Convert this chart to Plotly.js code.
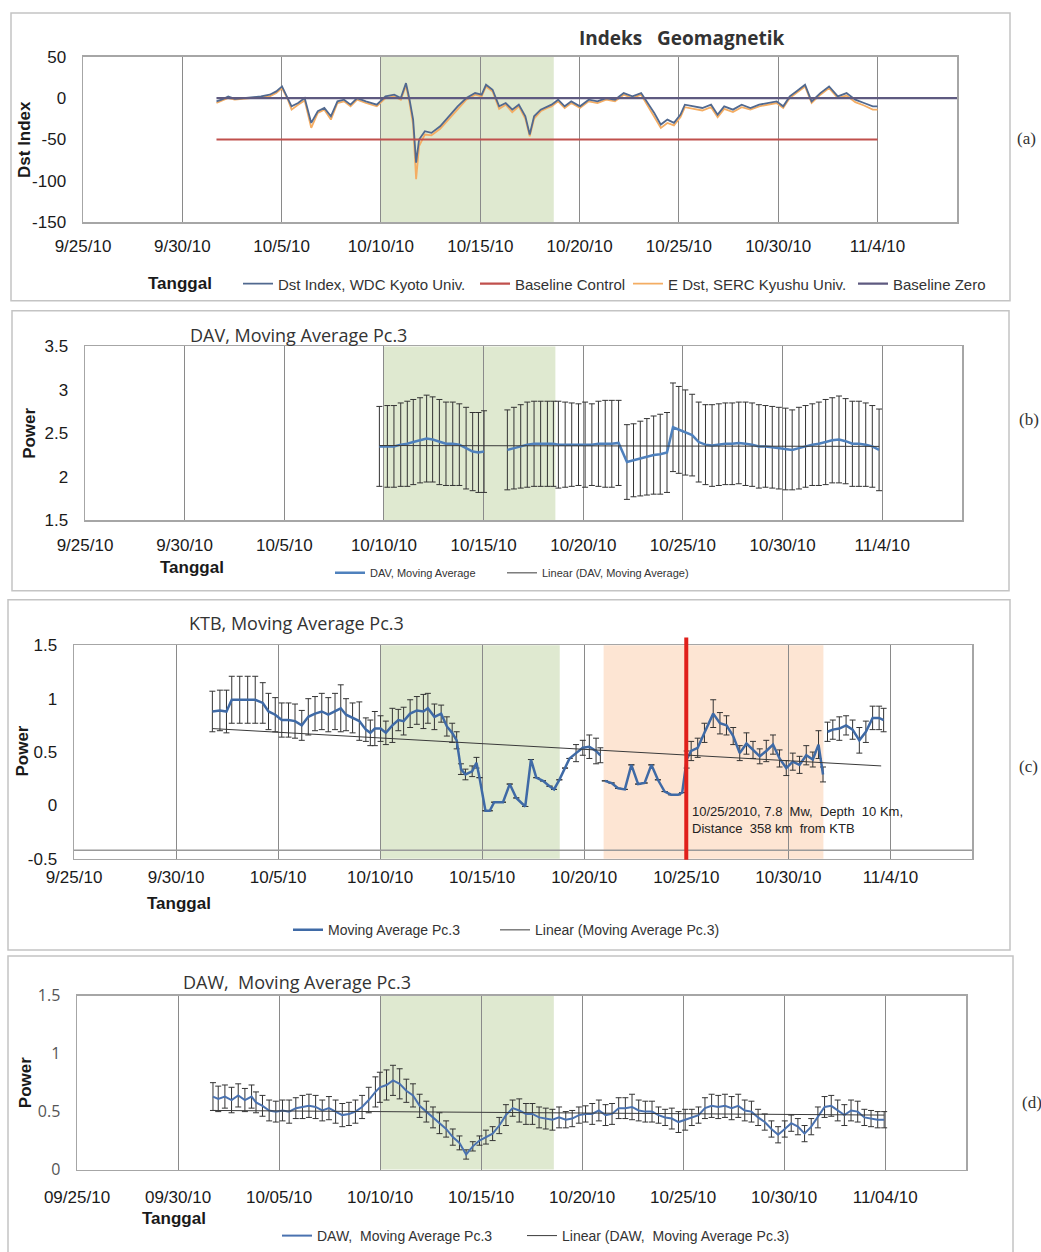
<!DOCTYPE html>
<html><head><meta charset="utf-8">
<script src="https://cdn.plot.ly/plotly-3.0.1.min.js"></script>
<style>html,body{margin:0;padding:0;background:#fff;} #chart{width:1041px;height:1252px;}</style>
</head><body><div id="chart"></div>
<script>
// ---------- DATA (day offsets = days since 2010-09-25 00:00) ----------
const xTickFormatA = '%-m/%-d/%y';
const xTickFormatD = '%m/%d/%y';

// (a) Geomagnetic index
const dstDay = [6.72,6.98,7.31,7.64,8.08,8.52,8.96,9.40,9.73,10.02,
 10.28,10.50,10.83,11.16,11.49,11.82,12.15,12.48,12.81,13.14,
 13.47,13.80,14.24,14.79,15.23,15.67,16.00,16.26,16.44,16.62,
 16.77,16.92,17.21,17.54,17.98,18.42,18.86,19.30,19.74,20.07,
 20.29,20.62,20.95,21.28,21.61,21.94,22.27,22.49,22.71,23.04,
 23.37,23.59,23.92,24.25,24.58,25.02,25.46,25.90,26.34,26.78,
 27.22,27.66,28.10,28.43,28.76,29.09,29.42,29.75,30.08,30.30,
 30.74,31.18,31.62,31.95,32.28,32.72,33.16,33.60,34.04,34.48,
 34.92,35.25,35.58,35.91,36.35,36.68,37.12,37.56,38.00,38.44,
 38.88,39.32,39.76,40.00];
const dstIndex = [-4,-2,2,-1,0,1,2,4,8,14,
 2,-10,-6,0,-30,-16,-12,-22,-4,-2,
 -8,0,-4,-8,2,4,0,18,-2,-26,
 -78,-50,-40,-42,-34,-22,-10,0,6,4,
 16,10,-10,-6,-14,-8,-22,-44,-22,-14,
 -10,-8,-2,-10,-4,-10,-2,-4,0,-2,
 6,2,6,-6,-18,-32,-26,-30,-20,-8,
 -10,-12,-8,-20,-10,-14,-8,-12,-8,-6,
 -4,-10,2,8,16,-4,6,14,2,6,
 -2,-6,-10,-10];
const eDst = [-6,-3,0,-2,-1,0,1,2,6,12,
 0,-14,-8,-3,-36,-18,-14,-26,-6,-4,
 -10,-2,-6,-10,0,2,-2,15,-6,-32,
 -98,-58,-44,-45,-37,-25,-13,-2,4,2,
 14,8,-13,-8,-17,-10,-25,-46,-25,-16,
 -12,-10,-4,-12,-6,-12,-4,-6,-2,-4,
 4,0,4,-9,-22,-36,-30,-33,-23,-11,
 -13,-15,-11,-23,-13,-17,-11,-14,-10,-8,
 -6,-12,0,6,14,-6,4,12,0,3,
 -5,-9,-14,-14];
const baselineControlDay = [6.72, 40.0];
const baselineControl = [-50, -50];
const baselineZeroDay = [6.72, 44.0];
const baselineZero = [0, 0];
const dstTickVals = [-150,-100,-50,0,50];
const dstTickText = ['-150','-100','-50','0','50'];

// (b) DAV
const davDay = [14.77,15.17,15.50,15.84,16.17,16.47,16.81,17.14,17.44,17.78,18.11,18.45,18.78,19.12,19.45,19.74,20.02,
 20.60,
 21.19,21.52,21.86,22.19,22.53,22.86,23.20,23.50,
 23.75,24.09,24.42,24.76,25.09,25.43,25.76,26.10,26.43,26.77,
 27.19,27.52,27.86,28.19,28.53,28.86,29.20,
 29.50,29.79,30.12,30.46,30.79,31.13,31.46,31.80,32.13,32.47,
 32.80,33.14,33.47,33.81,34.14,34.48,34.81,35.15,35.48,35.82,
 36.15,36.49,36.82,37.16,37.49,37.83,38.16,38.50,38.83,39.17,
 39.50,39.84];
const davMA = [2.35,2.35,2.35,2.37,2.38,2.40,2.42,2.44,2.43,2.40,2.38,2.38,2.37,2.33,2.29,2.28,2.29,
 null,
 2.31,2.33,2.35,2.37,2.38,2.38,2.38,2.38,
 2.37,2.37,2.37,2.37,2.37,2.37,2.38,2.38,2.38,2.39,
 2.17,2.19,2.21,2.23,2.25,2.26,2.28,
 2.57,2.54,2.51,2.48,2.40,2.37,2.36,2.37,2.38,2.38,
 2.39,2.38,2.37,2.35,2.35,2.34,2.33,2.32,2.31,2.33,
 2.35,2.37,2.38,2.40,2.42,2.43,2.41,2.38,2.38,2.37,
 2.35,2.31];
const davErr = [0.46,0.47,0.47,0.48,0.49,0.49,0.49,0.50,0.49,0.49,0.48,0.48,0.47,0.47,0.45,0.46,0.47,
 null,
 0.46,0.47,0.48,0.49,0.49,0.49,0.49,0.49,
 0.50,0.49,0.48,0.47,0.49,0.47,0.49,0.50,0.50,0.49,
 0.43,0.42,0.43,0.44,0.45,0.46,0.46,
 0.51,0.50,0.49,0.47,0.46,0.46,0.47,0.47,0.47,0.47,
 0.47,0.48,0.48,0.48,0.47,0.47,0.47,0.47,0.46,0.47,
 0.47,0.47,0.48,0.49,0.49,0.50,0.49,0.49,0.49,0.48,
 0.47,0.47];
const davTrendDay = [14.77, 39.84];
const davTrend = [2.36, 2.35];

// (c) KTB
const ktbDay = [6.78,7.15,7.47,7.73,8.12,8.51,8.88,9.25,9.53,9.86,
 10.18,10.51,10.83,11.16,11.48,11.81,12.14,12.46,12.79,13.07,
 13.33,13.65,13.98,14.30,14.52,14.74,15.02,15.28,15.60,15.89,
 16.15,16.47,16.80,17.12,17.34,17.66,17.99,18.27,18.53,18.75,
 18.96,19.18,19.51,19.72,19.87,20.16,20.37,20.59,21.02,21.35,
 21.67,22.11,22.39,22.65,22.98,23.30,23.52,23.78,24.06,24.28,
 24.60,24.93,25.25,25.58,25.79,
 25.90,
 26.01,26.34,26.66,26.99,27.31,27.64,27.96,28.29,28.61,28.94,
 29.26,29.59,29.80,30.02,30.24,30.56,30.89,31.32,31.65,31.97,
 32.30,32.62,32.95,33.27,33.60,33.92,34.25,34.57,34.90,35.22,
 35.55,35.88,36.20,36.48,36.70,
 36.80,
 36.92,37.18,37.50,37.83,38.15,38.48,38.80,39.13,39.45,39.67];
const ktbMA = [0.88,0.89,0.88,0.99,0.99,0.99,0.99,0.96,0.88,0.85,
 0.80,0.80,0.79,0.75,0.83,0.86,0.88,0.85,0.88,0.91,
 0.85,0.82,0.79,0.71,0.68,0.72,0.72,0.68,0.75,0.80,
 0.79,0.86,0.89,0.88,0.91,0.83,0.86,0.74,0.68,0.61,
 0.34,0.29,0.32,0.40,0.26,-0.05,-0.05,0.03,0.03,0.20,
 0.07,-0.01,0.43,0.26,0.23,0.18,0.15,0.24,0.35,0.44,
 0.49,0.54,0.55,0.51,0.47,
 null,
 0.23,0.21,0.16,0.15,0.38,0.20,0.21,0.38,0.24,0.13,
 0.10,0.10,0.12,0.43,0.51,0.54,0.68,0.86,0.77,0.75,
 0.65,0.49,0.58,0.52,0.46,0.51,0.57,0.44,0.35,0.41,
 0.38,0.47,0.43,0.57,0.29,
 null,
 0.69,0.71,0.72,0.75,0.71,0.61,0.69,0.82,0.82,0.80];
const ktbErr = [0.19,0.19,0.20,0.22,0.22,0.22,0.22,0.19,0.17,0.16,
 0.16,0.16,0.16,0.14,0.17,0.16,0.17,0.16,0.17,0.22,
 0.15,0.14,0.18,0.11,0.12,0.16,0.12,0.11,0.16,0.10,
 0.13,0.13,0.13,0.16,0.14,0.12,0.08,0.09,0.09,0.08,
 0.05,0.05,0.05,0.05,null,null,null,null,null,null,
 null,null,null,null,null,null,null,null,null,null,
 0.08,0.07,0.11,0.12,0.07,
 null,
 null,null,null,null,null,null,null,null,null,null,
 null,null,null,0.08,0.09,0.09,0.09,0.13,0.10,0.09,
 0.08,0.07,0.10,0.08,0.07,0.10,0.09,0.08,0.07,0.08,
 0.08,0.09,0.07,0.13,0.07,
 null,
 0.09,0.09,0.11,0.09,0.09,0.12,0.10,0.11,0.11,0.11];
const ktbTrendDay = [6.78, 39.55];
const ktbTrend = [0.72, 0.37];
const ktbTickVals = [-0.5,0,0.5,1,1.5];
const ktbTickText = ['-0.5','0','0.5','1','1.5'];
const quakeDay = 30.0;
const quakeText = '10/25/2010, 7.8  Mw,  Depth  10 Km,<br>Distance  358 km  from KTB';

// (d) DAW
const dawDay = [6.73,6.99,7.32,7.65,7.98,8.31,8.64,8.86,9.18,9.51,
 9.84,10.17,10.50,10.83,11.16,11.48,11.81,12.14,12.47,12.80,
 13.13,13.46,13.78,14.11,14.44,14.77,14.99,15.32,15.64,15.97,
 16.30,16.63,16.96,17.29,17.62,17.94,18.27,18.60,18.93,19.26,
 19.59,19.92,20.24,20.57,20.90,21.23,21.56,21.89,22.22,22.54,
 22.87,23.20,23.53,23.86,24.19,24.51,24.84,25.17,25.50,25.83,
 26.16,26.48,26.81,27.14,27.47,27.80,28.13,28.46,28.78,29.11,
 29.44,29.77,30.10,30.43,30.76,31.08,31.41,31.74,32.07,32.40,
 32.73,33.05,33.38,33.71,34.04,34.37,34.70,35.03,35.35,35.68,
 36.01,36.34,36.67,37.00,37.33,37.65,37.98,38.31,38.64,38.97,
 39.30,39.63,39.95];
const dawMA = [0.63,0.61,0.63,0.60,0.64,0.60,0.63,0.58,0.55,0.51,
 0.50,0.51,0.50,0.53,0.54,0.55,0.54,0.51,0.53,0.50,
 0.47,0.48,0.50,0.54,0.60,0.67,0.71,0.73,0.77,0.74,
 0.68,0.64,0.55,0.50,0.45,0.40,0.35,0.28,0.23,0.13,
 0.20,0.25,0.28,0.31,0.38,0.47,0.53,0.51,0.48,0.48,
 0.45,0.44,0.43,0.45,0.43,0.44,0.47,0.48,0.48,0.51,
 0.47,0.48,0.53,0.53,0.54,0.51,0.50,0.50,0.47,0.45,
 0.44,0.41,0.43,0.45,0.47,0.53,0.55,0.54,0.55,0.53,
 0.55,0.51,0.50,0.45,0.41,0.35,0.30,0.35,0.40,0.37,
 0.31,0.37,0.45,0.54,0.55,0.51,0.47,0.51,0.50,0.45,
 0.44,0.43,0.43];
const dawErr = [0.12,0.11,0.10,0.11,0.10,0.10,0.10,0.09,0.09,0.09,
 0.09,0.09,0.10,0.09,0.10,0.10,0.10,0.09,0.10,0.10,
 0.10,0.10,0.10,0.10,0.11,0.13,0.13,0.13,0.13,0.13,
 0.10,0.10,0.10,0.09,0.09,0.09,0.07,0.07,0.06,0.04,
 0.04,0.04,0.06,0.06,0.07,0.09,0.07,0.10,0.09,0.09,
 0.09,0.09,0.09,0.09,0.07,0.07,0.07,0.07,0.09,0.09,
 0.09,0.09,0.09,0.09,0.11,0.09,0.09,0.09,0.07,0.07,
 0.09,0.09,0.09,0.07,0.07,0.09,0.10,0.10,0.10,0.10,
 0.10,0.09,0.09,0.07,0.07,0.07,0.07,0.07,0.07,0.07,
 0.07,0.07,0.09,0.09,0.09,0.09,0.09,0.09,0.09,0.07,
 0.07,0.07,0.07];
const dawTrendDay = [6.73, 39.95];
const dawTrend = [0.51, 0.47];

// shaded periods (day offsets)
const greenStart = 15.0, greenEnd = 23.7;
const peachStart = 25.95, peachEnd = 36.72;

// ---------- LAYOUT HELPERS ----------
const W = 1041, H = 1252;
const px = x => x / W, py = y => 1 - y / H;
const BASE = Date.UTC(2010, 8, 25);
const ms = d => BASE + d * 86400000;
const toDates = arr => arr.map(ms);
const SANS = 'Liberation Sans, Arial, sans-serif';
const CAL = 'Open Sans, Lato, sans-serif';

function xax(dom, fmt, anchor, standoff) {
  return {type: 'date', domain: [px(dom[0]), px(dom[1])], range: ['2010-09-25', '2010-11-08'],
    tick0: '2010-09-25', dtick: 5 * 86400000, tickformat: fmt, showgrid: true, gridcolor: '#8a8a8a',
    gridwidth: 1, showline: true, mirror: true, linecolor: '#a6a6a6', linewidth: 1.5, ticks: '',
    tickfont: {family: SANS, size: 17, color: '#1a1a1a'}, anchor: anchor, ticklabelstandoff: standoff,
    zeroline: false, fixedrange: true};
}
function yax(dom, range, anchor, extra, font) {
  return Object.assign({domain: [py(dom[1]), py(dom[0])], range: range, showgrid: false, zeroline: false,
    showline: true, mirror: true, linecolor: '#a6a6a6', linewidth: 1.5, ticks: '',
    tickfont: font || {family: SANS, size: 17, color: '#1a1a1a'}, anchor: anchor, ticklabelstandoff: 12,
    fixedrange: true}, extra);
}
function leg(xLine, yc, size) {
  return {x: px(xLine - 5), y: py(yc), xanchor: 'left', yanchor: 'middle', orientation: 'h',
    bgcolor: 'rgba(0,0,0,0)', borderwidth: 0, itemwidth: 30,
    font: {family: SANS, size: size, color: '#333'}};
}

const errStyle = (arr) => ({type: 'data', array: arr, visible: true, color: '#333', thickness: 1, width: 3});

// ---------- TRACES ----------
const traces = [
  // (a)
  {x: toDates(dstDay), y: eDst, type: 'scatter', mode: 'lines', name: 'E Dst, SERC Kyushu Univ.',
   line: {color: '#f4ad63', width: 1.8}, xaxis: 'x', yaxis: 'y', legend: 'legend3'},
  {x: toDates(dstDay), y: dstIndex, type: 'scatter', mode: 'lines', name: 'Dst Index, WDC Kyoto Univ.',
   line: {color: '#51698f', width: 1.8}, xaxis: 'x', yaxis: 'y', legend: 'legend'},
  {x: toDates(baselineControlDay), y: baselineControl, type: 'scatter', mode: 'lines', name: 'Baseline Control',
   line: {color: '#c0504d', width: 2.2}, xaxis: 'x', yaxis: 'y', legend: 'legend2'},
  {x: toDates(baselineZeroDay), y: baselineZero, type: 'scatter', mode: 'lines', name: 'Baseline Zero',
   line: {color: '#5e5a80', width: 2.2}, xaxis: 'x', yaxis: 'y', legend: 'legend4'},
  // (b)
  {x: toDates(davDay), y: davMA, type: 'scatter', mode: 'lines', name: 'DAV, Moving Average',
   line: {color: '#4f81bd', width: 2.5}, error_y: errStyle(davErr), connectgaps: false,
   xaxis: 'x2', yaxis: 'y2', legend: 'legend5'},
  {x: toDates(davTrendDay), y: davTrend, type: 'scatter', mode: 'lines', name: 'Linear (DAV, Moving Average)',
   line: {color: '#3a3a3a', width: 1}, xaxis: 'x2', yaxis: 'y2', legend: 'legend6'},
  // (c)
  {x: toDates(ktbDay), y: ktbMA, type: 'scatter', mode: 'lines', name: 'Moving Average Pc.3',
   line: {color: '#3f6aa6', width: 2.5}, error_y: errStyle(ktbErr), connectgaps: false,
   xaxis: 'x3', yaxis: 'y3', legend: 'legend7'},
  {x: toDates(ktbTrendDay), y: ktbTrend, type: 'scatter', mode: 'lines', name: 'Linear (Moving Average Pc.3)',
   line: {color: '#3a3a3a', width: 1}, xaxis: 'x3', yaxis: 'y3', legend: 'legend8'},
  // (d)
  {x: toDates(dawDay), y: dawMA, type: 'scatter', mode: 'lines', name: 'DAW,  Moving Average Pc.3',
   line: {color: '#4a72b0', width: 2}, error_y: errStyle(dawErr),
   xaxis: 'x4', yaxis: 'y4', legend: 'legend9'},
  {x: toDates(dawTrendDay), y: dawTrend, type: 'scatter', mode: 'lines', name: 'Linear (DAW,  Moving Average Pc.3)',
   line: {color: '#3a3a3a', width: 1}, xaxis: 'x4', yaxis: 'y4', legend: 'legend10'}
];

// ---------- SHAPES ----------
const frame = (x0, y0, x1, y1) => ({type: 'rect', xref: 'paper', yref: 'paper', x0: px(x0), x1: px(x1),
  y0: py(y1), y1: py(y0), line: {color: '#c4c4c4', width: 1.5}, fillcolor: 'rgba(0,0,0,0)', layer: 'below'});
const band = (n, a, b, color) => ({type: 'rect', xref: 'x' + n, yref: 'y' + n + ' domain', x0: ms(a), x1: ms(b),
  y0: 0, y1: 1, fillcolor: color, line: {width: 0}, layer: 'below'});
const GREEN = '#dfe9d0', PEACH = '#fde5d3';
const shapes = [
  frame(11, 13, 1010, 303), frame(12, 313, 1009, 595), frame(8, 604, 1010, 957), frame(8, 963, 1013, 1262),
  band('', greenStart, greenEnd, GREEN), band('2', greenStart, 23.6, GREEN),
  band('3', greenStart, 23.8, GREEN), band('3', peachStart, peachEnd, PEACH), band('4', greenStart, 23.6, GREEN),
  {type: 'line', xref: 'x3 domain', yref: 'y3', x0: 0, x1: 1, y0: -0.42, y1: -0.42, line: {color: '#9a9a9a', width: 1.5}},
  {type: 'line', xref: 'x3', yref: 'paper', x0: ms(quakeDay), x1: ms(quakeDay), y0: py(866), y1: py(642),
   line: {color: '#e0201b', width: 4}, layer: 'above'}
];
shapes[4].xref = 'x'; shapes[4].yref = 'y domain';

// ---------- ANNOTATIONS ----------
const ann = (x, y, text, font, extra) => Object.assign({xref: 'paper', yref: 'paper', x: px(x), y: py(y), text: text,
  showarrow: false, xanchor: 'center', yanchor: 'middle', font: font}, extra || {});
const boldSans = {family: SANS, size: 17, color: '#1a1a1a'};
const titleFont = {family: CAL, size: 18, color: '#333'};
const panelFont = {family: 'Liberation Serif, DejaVu Serif, serif', size: 17, color: '#333'};
const annotations = [
  ann(681, 38, '<b>Indeks   Geomagnetik</b>', {family: CAL, size: 19, color: '#333'}),
  ann(25, 141, '<b>Dst Index</b>', boldSans, {textangle: -90}),
  ann(180, 286, '<b>Tanggal</b>', boldSans),
  ann(298, 337, 'DAV, Moving Average Pc.3', titleFont),
  ann(30, 437, '<b>Power</b>', boldSans, {textangle: -90}),
  ann(192, 572, '<b>Tanggal</b>', boldSans),
  ann(296, 628, 'KTB, Moving Average Pc.3', titleFont),
  ann(23, 757, '<b>Power</b>', boldSans, {textangle: -90}),
  ann(179, 910, '<b>Tanggal</b>', boldSans),
  ann(690, 826, quakeText, {family: SANS, size: 13, color: '#222'}, {xanchor: 'left', align: 'left'}),
  ann(297, 989, 'DAW,  Moving Average Pc.3', titleFont),
  ann(25, 1091, '<b>Power</b>', boldSans, {textangle: -90}),
  ann(174, 1227, '<b>Tanggal</b>', boldSans),
  ann(1015, 140, '(a)', panelFont, {xanchor: 'left'}),
  ann(1017, 423, '(b)', panelFont, {xanchor: 'left'}),
  ann(1017, 772, '(c)', panelFont, {xanchor: 'left'}),
  ann(1020, 1110, '(d)', panelFont, {xanchor: 'left'})
];

const layout = {
  width: W, height: H, margin: {l: 0, r: 0, t: 0, b: 0}, paper_bgcolor: '#fff', plot_bgcolor: 'rgba(0,0,0,0)',
  font: {family: SANS, color: '#1a1a1a'}, showlegend: true,
  xaxis: xax([83, 957], xTickFormatA, 'y', 8),
  yaxis: yax([57, 224], [-150, 50], 'x', {tickvals: dstTickVals, ticktext: dstTickText}),
  xaxis2: xax([85, 962], xTickFormatA, 'y2', 9),
  yaxis2: yax([349, 524], [1.5, 3.5], 'x2', {dtick: 0.5, tick0: 1.5}),
  xaxis3: xax([74, 972], xTickFormatA, 'y3', 2),
  yaxis3: yax([650, 865], [-0.5, 1.5], 'x3', {tickvals: ktbTickVals, ticktext: ktbTickText}),
  xaxis4: xax([77, 966], xTickFormatD, 'y4', 12),
  yaxis4: yax([1003, 1178], [0, 1.5], 'x4', {dtick: 0.5, tick0: 0}, {family: CAL, size: 16, color: '#555'}),
  legend: leg(243, 286, 15), legend2: leg(480, 286, 15), legend3: leg(633, 286, 15), legend4: leg(858, 286, 15),
  legend5: leg(335, 577, 11), legend6: leg(507, 577, 11),
  legend7: leg(293, 937, 14), legend8: leg(500, 937, 14),
  legend9: leg(282, 1245, 14), legend10: leg(527, 1245, 14),
  shapes: shapes, annotations: annotations
};

Plotly.newPlot('chart', traces, layout, {staticPlot: true, displayModeBar: false});
</script>
</body></html>
